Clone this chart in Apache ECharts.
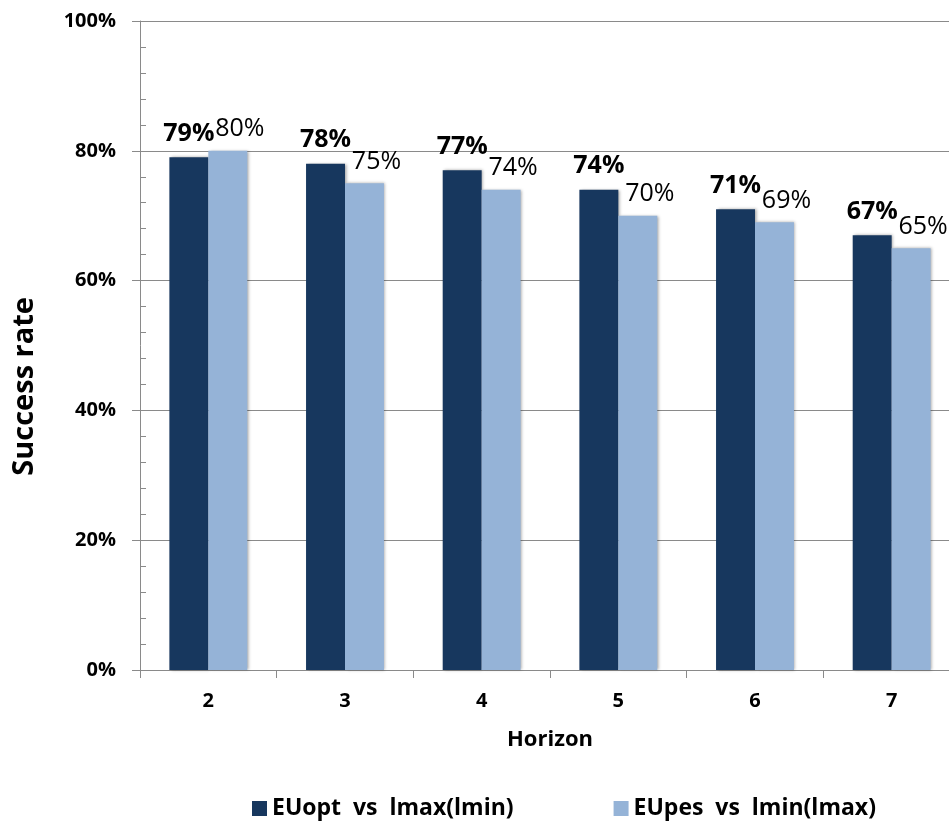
<!DOCTYPE html>
<html><head><meta charset="utf-8">
<script src="https://cdn.jsdelivr.net/npm/echarts@6/dist/echarts.min.js"></script>
<style>html,body{margin:0;padding:0;background:#fff}#c{width:949px;height:823px}</style>
</head><body><div id="c"></div>
<script>
const categories = ['2','3','4','5','6','7'];
const seriesNames = ['EUopt  vs  lmax(lmin)', 'EUpes  vs  lmin(lmax)'];
const euOpt = [79, 78, 77, 74, 71, 67];
const euPes = [80, 75, 74, 70, 69, 65];
const yTicks = [0, 20, 40, 60, 80, 100];

const FONT = '"Open Sans", "Liberation Sans", sans-serif';
const chart = echarts.init(document.getElementById('c'), null, {renderer: 'canvas'});
const shadow = {shadowColor: 'rgba(0,0,0,0.35)', shadowBlur: 3, shadowOffsetX: 1.5, shadowOffsetY: 0};
chart.setOption({
  animation: false,
  backgroundColor: '#fff',
  grid: {left: 140, top: 21, height: 649, width: 820, containLabel: false, outerBoundsMode: 'none'},
  legend: {
    left: 247, top: 792, itemWidth: 15, itemHeight: 15, itemGap: 100, icon: 'rect',
    textStyle: {fontFamily: FONT, fontWeight: 'bold', fontSize: 23, color: '#000'},
    data: seriesNames
  },
  graphic: [{
    type: 'text', left: 10, top: 297, rotation: Math.PI / 2,
    style: {text: 'Success rate', fontFamily: FONT, fontWeight: 'bold', fontSize: 29, fill: '#000'}
  }],
  xAxis: {
    type: 'category', data: categories,
    axisLine: {lineStyle: {color: '#8a8a8a', width: 1}},
    axisTick: {show: true, length: 8, lineStyle: {color: '#8a8a8a'}},
    axisLabel: {margin: 21, fontFamily: FONT, fontWeight: 'bold', fontSize: 20, color: '#000'},
    name: 'Horizon', nameLocation: 'middle', nameGap: 59,
    nameTextStyle: {fontFamily: FONT, fontWeight: 'bold', fontSize: 22, color: '#000'}
  },
  yAxis: [{
    type: 'value', min: yTicks[0], max: yTicks[yTicks.length - 1], interval: 20,
    axisLine: {show: true, lineStyle: {color: '#8a8a8a', width: 1}},
    axisTick: {show: true, length: 8, lineStyle: {color: '#8a8a8a'}},
    splitLine: {show: true, lineStyle: {color: '#8a8a8a', width: 1}},
    axisLabel: {margin: 24, formatter: '{value}%', fontFamily: FONT, fontWeight: 'bold', fontSize: 20, color: '#000'}
  }, {
    type: 'value', min: 0, max: 100, interval: 4, position: 'left', offset: 0,
    axisLine: {show: false}, splitLine: {show: false}, axisLabel: {show: false},
    axisTick: {show: true, inside: true, length: 6, lineStyle: {color: '#8a8a8a'}}
  }],
  series: [{
    name: seriesNames[0], type: 'bar', data: euOpt, barGap: '0%', barCategoryGap: '43%',
    itemStyle: Object.assign({color: '#17375E'}, shadow),
    label: {show: true, position: 'top', distance: 11, formatter: '{c}%',
      fontFamily: FONT, fontWeight: 'bold', fontSize: 25, color: '#000'}
  }, {
    name: seriesNames[1], type: 'bar', data: euPes,
    itemStyle: Object.assign({color: '#95B3D7'}, shadow),
    label: {show: true, position: 'top', distance: 9, offset: [12, 0], formatter: '{c}%',
      fontFamily: FONT, fontWeight: 'normal', fontSize: 25, color: '#000'}
  }]
});
</script></body></html>
